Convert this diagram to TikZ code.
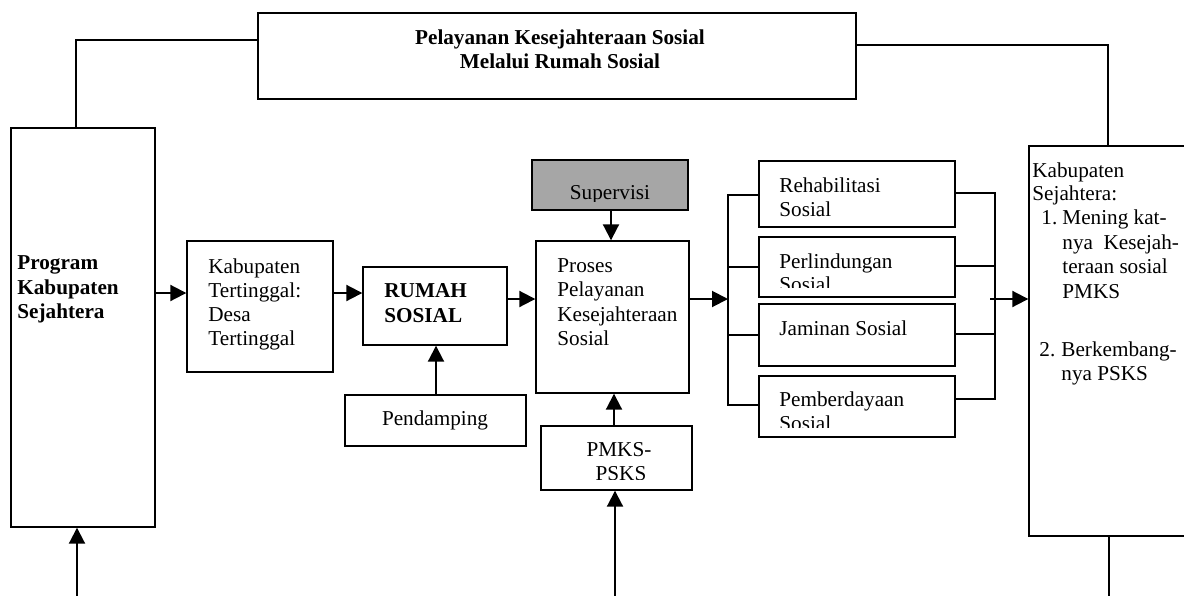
\documentclass[tikz,border=0pt]{standalone}
\usepackage{fontspec}
\setmainfont{Liberation Serif}
\usetikzlibrary{fit,arrows.meta}
\definecolor{supgray}{RGB}{166,166,166}
\tikzset{
  box/.style={draw=black, line width=0.7pt, inner sep=0pt, rectangle},
  txt/.style={inner sep=0pt, font=\fontsize{10.6}{12.25}\selectfont},
  btxt/.style={inner sep=0pt, font=\fontsize{10.6}{12.25}\selectfont\bfseries},
  arr/.style={line width=1pt, -{Triangle[length=8pt,width=8pt]}},
  wire/.style={line width=0.65pt},
}
\begin{document}
\begin{tikzpicture}[x=0.5pt,y=-0.5pt]
\useasboundingbox (0,0) rectangle (1184,595);
\clip (0,0) rectangle (1184,595);
% boxes
\node[box, fit={(258,13)(856,99)}] (top) {};
\node[box, fit={(11,128)(155,527)}] (prog) {};
\node[box, fit={(187,241)(333,372)}] (kt) {};
\node[box, fit={(363,267)(507,345)}] (rumah) {};
\node[box, fit={(345,395)(526,446)}] (pend) {};
\node[box, fill=supgray, fit={(532,160)(688,210)}] (sup) {};
\node[box, fit={(536,241)(689,393)}] (proses) {};
\node[box, fit={(541,426)(692,490)}] (pmks) {};
\node[box, fit={(759,161)(955,227)}] (reh) {};
\node[box, fit={(759,237)(955,297)}] (per) {};
\node[box, fit={(759,304)(955,366)}] (jam) {};
\node[box, fit={(759,376)(955,437)}] (pem) {};
\node[box, fit={(1029,146)(1195,536)}] (res) {};
% texts
\node[btxt, anchor=base] (title1) at (560,44) {Pelayanan Kesejahteraan Sosial};
\node[btxt, anchor=base] (title2) at (560,68) {Melalui Rumah Sosial};
\node[btxt, anchor=base west] (prog1) at (17,269) {Program};
\node[btxt, anchor=base west] (prog2) at (17,294) {Kabupaten};
\node[btxt, anchor=base west] (prog3) at (17,318) {Sejahtera};
\node[txt, anchor=base west] (kt1) at (208,273) {Kabupaten};
\node[txt, anchor=base west] (kt2) at (208,297) {Tertinggal:};
\node[txt, anchor=base west] (kt3) at (208,321) {Desa};
\node[txt, anchor=base west] (kt4) at (208,345) {Tertinggal};
\node[btxt, anchor=base west] (rs1) at (384,297) {RUMAH};
\node[btxt, anchor=base west] (rs2) at (384,322) {SOSIAL};
\node[txt, anchor=base] (pd1) at (435,425) {Pendamping};
\begin{scope}
\clip (533,161) rectangle (687,201);
\node[txt, anchor=base] (sp1) at (610,199) {Supervisi};
\end{scope}
\node[txt, anchor=base west] (pr1) at (557,272) {Proses};
\node[txt, anchor=base west] (pr2) at (557,296) {Pelayanan};
\node[txt, anchor=base west] (pr3) at (557,321) {Kesejahteraan};
\node[txt, anchor=base west] (pr4) at (557,345) {Sosial};
\begin{scope}
\clip (542,427) rectangle (691,479);
\node[txt, anchor=base] (pm1) at (619,456) {PMKS-};
\node[txt, anchor=base] (pm2) at (621,480.5) {PSKS};
\end{scope}
\node[txt, anchor=base west] (rh1) at (779,192) {Rehabilitasi};
\node[txt, anchor=base west] (rh2) at (779,216) {Sosial};
\begin{scope}
\clip (760,238) rectangle (954,287);
\node[txt, anchor=base west] (pl1) at (779,268) {Perlindungan};
\node[txt, anchor=base west] (pl2) at (779,291) {Sosial};
\end{scope}
\node[txt, anchor=base west] (jm1) at (779,335) {Jaminan Sosial};
\begin{scope}
\clip (760,377) rectangle (954,427);
\node[txt, anchor=base west] (pb1) at (779,406) {Pemberdayaan};
\node[txt, anchor=base west] (pb2) at (779,430) {Sosial};
\end{scope}
\node[txt, anchor=base west] (rt1) at (1032,177) {Kabupaten};
\node[txt, anchor=base west] (rt2) at (1032,200) {Sejahtera:};
\node[txt, anchor=base west] (rn1) at (1041,224) {1.};
\node[txt, anchor=base west] (rt3) at (1062,224) {Mening kat-};
\node[txt, anchor=base west] (rt4) at (1062,249) {nya\ \ Kesejah-};
\node[txt, anchor=base west] (rt5) at (1062,273) {teraan sosial};
\node[txt, anchor=base west] (rt6) at (1062,298) {PMKS};
\node[txt, anchor=base west] (rn2) at (1039,356) {2.};
\node[txt, anchor=base west] (rt7) at (1061,356) {Berkembang-};
\node[txt, anchor=base west] (rt8) at (1061,380) {nya PSKS};
% free ends and bracket points
\coordinate (inP) at (77,600);
\coordinate (inM) at (615,600);
\coordinate (outR) at (1109,600);
\coordinate (blT) at (728,195);
\coordinate (blB) at (728,405);
\coordinate (brT) at (995,193);
\coordinate (brB) at (995,399);
% top connectors
\draw[wire] (top.west |- 0,40) -| (prog.north -| 76,0);
\draw[wire] (top.east |- 0,45) -| (res.north -| 1108,0);
% arrows
\draw[arr] (inP) -- (prog.south -| inP);
\draw[arr] (prog.east |- 0,293) -- (kt.west |- 0,293);
\draw[arr] (kt.east |- 0,293) -- (rumah.west |- 0,293);
\draw[arr] (rumah.east |- 0,299) -- (proses.west |- 0,299);
\draw[arr] (sup.south -| 611,0) -- (proses.north -| 611,0);
\draw[arr] (pend.north -| 436,0) -- (rumah.south -| 436,0);
\draw[arr] (pmks.north -| 614,0) -- (proses.south -| 614,0);
\draw[arr] (inM) -- (pmks.south -| inM);
\draw[arr] (proses.east |- 0,299) -- (blT |- 0,299);
\draw[arr] (brT |- 0,299) ++(-5,0) -- (res.west |- 0,299);
\draw[wire] (res.south -| outR) -- (outR);
% left bracket
\draw[wire] (reh.west |- blT) -- (blT) -- (blB) -- (pem.west |- blB);
\draw[wire] (blT |- 0,267) -- (per.west |- 0,267);
\draw[wire] (blT |- 0,335) -- (jam.west |- 0,335);
% right bracket
\draw[wire] (reh.east |- brT) -- (brT) -- (brB) -- (pem.east |- brB);
\draw[wire] (per.east |- 0,266) -- (brT |- 0,266);
\draw[wire] (jam.east |- 0,334) -- (brT |- 0,334);
\end{tikzpicture}
\end{document}
